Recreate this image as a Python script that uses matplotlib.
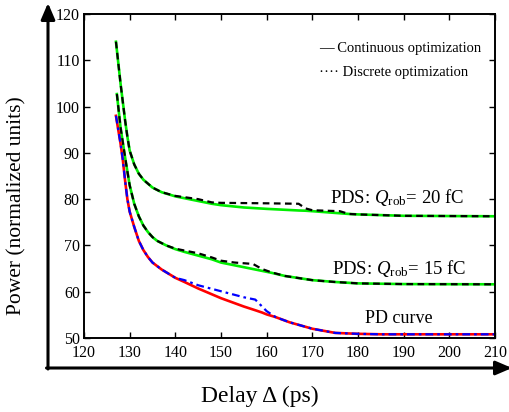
import matplotlib
matplotlib.use("Agg")
import matplotlib.pyplot as plt
from matplotlib.patches import FancyArrowPatch

plt.rcParams['font.family'] = ['Liberation Serif', 'DejaVu Serif']
plt.rcParams['mathtext.fontset'] = 'custom'
plt.rcParams['mathtext.rm'] = 'Liberation Serif'
plt.rcParams['mathtext.it'] = 'Liberation Serif:italic'

# PD curve, continuous (red) and discrete (blue)
pd_x = [127, 127.5, 128, 128.5, 129, 129.5, 130, 131, 132, 133, 134, 135, 137, 140,
        142, 145, 150, 155, 157.5, 159, 160, 162, 165, 170, 175, 180, 185, 190, 200, 210]
pd_cont = [98, 95, 92, 88.5, 84, 80, 77.3, 74, 71, 69, 67.5, 66.3, 64.8, 63.0,
           62.1, 60.7, 58.6, 56.8, 56.0, 55.5, 55.1, 54.5, 53.4, 52.0, 51.1, 50.9, 50.8, 50.8, 50.8, 50.8]
pd_disc = [98, 95, 92, 88.5, 84, 80, 77.3, 74, 71, 69, 67.5, 66.3, 64.8, 63.0,
           62.5, 61.4, 60.1, 58.8, 58.3, 56.8, 55.8, 54.5, 53.4, 52.0, 51.1, 50.9, 50.8, 50.8, 50.8, 50.8]

# PDS, Q_rob = 15 fC
q15_x = [127.2, 128, 129, 130, 131, 132, 133, 134, 135, 136, 138, 140, 142, 145, 148, 150,
         153, 157, 159, 161, 164, 170, 175, 180, 190, 210]
q15_cont = [102.7, 95.5, 89, 83, 79, 76.3, 74.3, 72.9, 71.8, 71, 70, 69.2, 68.6, 67.8, 67.0, 66.3,
            65.7, 64.9, 64.5, 64.1, 63.4, 62.5, 62.1, 61.8, 61.65, 61.6]
q15_disc = [102.7, 95.5, 89, 83, 79, 76.3, 74.3, 72.9, 71.8, 71, 70, 69.3, 68.9, 68.3, 67.4, 66.7,
            66.3, 66.0, 64.9, 64.2, 63.4, 62.5, 62.1, 61.8, 61.65, 61.6]

# PDS, Q_rob = 20 fC
q20_x = [127, 127.5, 128, 128.5, 129, 129.5, 130, 131, 132, 133, 135, 137, 140, 145, 148, 150,
         155, 160, 167, 168.5, 170, 176, 178, 180, 190, 210]
q20_cont = [114, 109.5, 105, 101, 97, 93.5, 90.5, 87.5, 85.5, 84.2, 82.5, 81.5, 80.6, 79.6, 79.0, 78.7,
            78.2, 77.9, 77.55, 77.5, 77.4, 76.95, 76.8, 76.7, 76.4, 76.3]
q20_disc = [114, 109.5, 105, 101, 97, 93.5, 90.5, 87.5, 85.5, 84.2, 82.5, 81.5, 80.7, 80.0, 79.3, 79.2,
            79.15, 79.1, 79.0, 78.0, 77.6, 77.4, 76.8, 76.7, 76.4, 76.3]

x_ticks = [120, 130, 140, 150, 160, 170, 180, 190, 200, 210]
y_ticks = [50, 60, 70, 80, 90, 100, 110, 120]

fig = plt.figure(figsize=(5.09, 4.12), dpi=100)
ax = fig.add_axes([84 / 509, 1 - 338 / 412, (495 - 84) / 509, (338 - 14) / 412])

ax.plot(q20_x, q20_cont, color='#00ee00', lw=1.9)
ax.plot(q20_x, q20_disc, color='black', lw=1.6, dashes=(3, 2))
ax.plot(q15_x, q15_cont, color='#00ee00', lw=1.9)
ax.plot(q15_x, q15_disc, color='black', lw=1.6, dashes=(3, 2))
ax.plot(pd_x, pd_cont, color='red', lw=1.9)
ax.plot(pd_x, pd_disc, color='blue', lw=1.6, dashes=(3.5, 1.8, 1.2, 1.8))

ax.set_xlim(120, 210)
ax.set_ylim(50, 120)
ax.set_xticks(x_ticks)
ax.set_yticks(y_ticks)
ax.tick_params(direction='in', top=True, right=True, length=4, width=1,
               labelsize=11.5)
ax.tick_params(axis='x', pad=5)
ax.tick_params(axis='y', pad=3)
for s in ax.spines.values():
    s.set_linewidth(1.4)

ax.text(173.9, 80.3, r'PDS: $Q_{\rm rob}$= 20 fC', fontsize=13.5, va='center')
ax.text(174.3, 65.1, r'PDS: $Q_{\rm rob}$= 15 fC', fontsize=13.5, va='center')
ax.text(189, 54.3, 'PD curve', fontsize=13, va='center', ha='center')
ax.text(171.5, 112.6, '\u2014 Continuous optimization', fontsize=10.5, va='center')
ax.text(171.5, 107.3, '\u00b7\u00b7\u00b7\u00b7 Discrete optimization', fontsize=10.5, va='center')

# outer arrows
W, H = 509, 412
fig.add_artist(FancyArrowPatch((48 / W, 1 - 369 / H), (48 / W, 1 - 3 / H),
                               transform=fig.transFigure, arrowstyle='-|>,head_length=0.7,head_width=0.3',
                               mutation_scale=14, lw=2.2, color='black', shrinkA=0, shrinkB=0))
fig.add_artist(FancyArrowPatch((46.5 / W, 1 - 368 / H), (512 / W, 1 - 368 / H),
                               transform=fig.transFigure, arrowstyle='-|>,head_length=0.7,head_width=0.3',
                               mutation_scale=14, lw=2.2, color='black', shrinkA=0, shrinkB=0))

fig.text(260 / W, 1 - 396 / H, 'Delay \u0394 (ps)', fontsize=17, ha='center', va='center')
fig.text(17 / W, 1 - 206 / H, 'Power (normalized units)', fontsize=15.5, ha='center', va='center',
         rotation=90)

fig.savefig('out.png', dpi=100)
